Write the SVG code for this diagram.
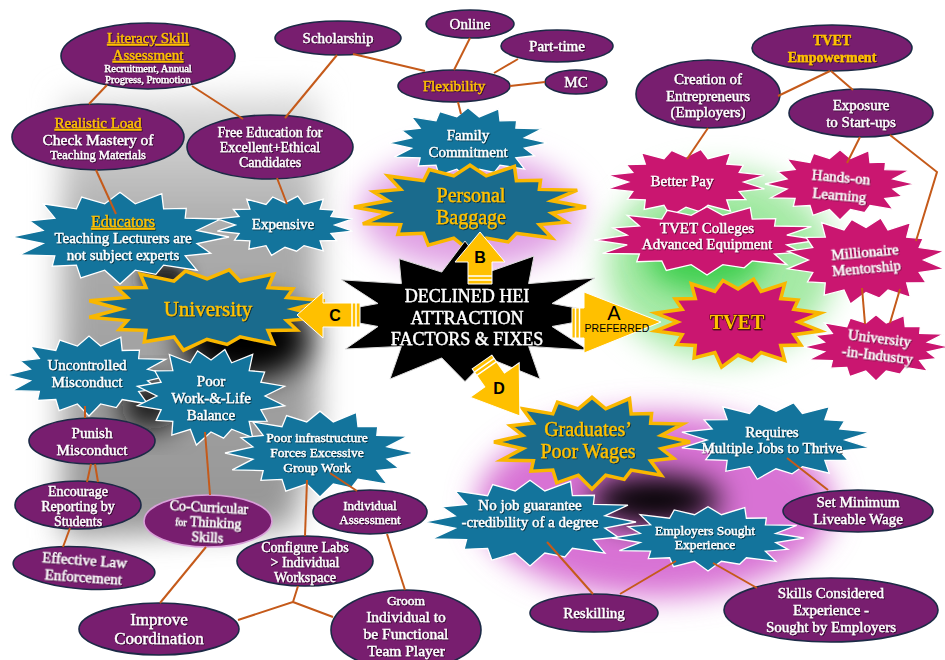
<svg xmlns="http://www.w3.org/2000/svg" width="945" height="660" viewBox="0 0 945 660">
<defs>
<style>
.e{fill:#781e6f;stroke:#1c2a46;stroke-width:1.6}
.t{fill:#13749c;stroke:#fff;stroke-width:1.3}
.tg{fill:#1a6b8d;stroke:#f9b700;stroke-width:3.5}
.m{fill:#ca1670;stroke:#fff;stroke-width:1.3}
.mg{fill:#ca1670;stroke:#f9b700;stroke-width:3.5}
.k{fill:#000;stroke:#ddd;stroke-width:1}
.c{fill:none;stroke:#c55a1a;stroke-width:2}
.w{font-family:"Liberation Serif","DejaVu Serif",serif;font-size:15px;fill:#fff;stroke:#fff;stroke-width:0.35;text-anchor:middle;filter:url(#sh)}
.g{fill:#ffc000;stroke:#ffc000}
.u{text-decoration:underline}
.ar{fill:#ffc000;stroke:#fff;stroke-width:1}
.st{stroke:#fff;stroke-width:1.5}
.al{font-family:"Liberation Sans",Arial,sans-serif;font-weight:bold;font-size:16px;fill:#000;text-anchor:middle}
</style>
<filter id="sh" x="-10%" y="-30%" width="120%" height="160%"><feDropShadow dx="0.8" dy="0.8" stdDeviation="0.6" flood-color="#000" flood-opacity="0.7"/></filter>
<filter id="b15" x="-50%" y="-50%" width="200%" height="200%"><feGaussianBlur stdDeviation="15"/></filter>
<filter id="b8" x="-50%" y="-50%" width="200%" height="200%"><feGaussianBlur stdDeviation="8"/></filter>
<linearGradient id="gg" x1="0" y1="0" x2="0" y2="1"><stop offset="0" stop-color="#e2e2e2"/><stop offset="0.3" stop-color="#acacac"/><stop offset="1" stop-color="#959595"/></linearGradient>
<path id="S" vector-effect="non-scaling-stroke" d="M100,0 L70.6,14 L83.2,34.5 L59.8,40 L70.7,70.7 L40,59.8 L32.9,79.5 L14,70.6 L0,100 L-14,70.6 L-36,86.9 L-40,59.8 L-62.2,62.2 L-59.8,40 L-92.4,38.3 L-70.6,14 L-100,0 L-70.6,-14 L-83.2,-34.5 L-59.8,-40 L-70.7,-70.7 L-40,-59.8 L-35.2,-85 L-14,-70.6 L0,-95 L14,-70.6 L38.3,-92.4 L40,-59.8 L60.8,-60.8 L59.8,-40 L92.4,-38.3 L70.6,-14 Z"/>
<path id="S2" vector-effect="non-scaling-stroke" d="M100,0 L58,15.5 L82.3,47.5 L42.4,42.4 L50,86.6 L15.5,58 L0,90 L-15.5,58 L-50,86.6 L-42.4,42.4 L-79.7,46 L-58,15.5 L-100,0 L-58,-15.5 L-82.3,-47.5 L-42.4,-42.4 L-44,-76.2 L-15.5,-58 L0,-100 L15.5,-58 L46,-79.7 L42.4,-42.4 L86.6,-50 L58,-15.5 Z"/>
</defs>
<rect width="945" height="660" fill="#fff"/>
<g id="backgrounds">
<path d="M62,98 L318,92 L318,420 L292,528 L62,538 Z" fill="url(#gg)" filter="url(#b15)"/>
<ellipse cx="245" cy="340" rx="65" ry="40" fill="#000" filter="url(#b15)"/>
<ellipse cx="150" cy="405" rx="30" ry="25" fill="#111" filter="url(#b15)"/>
<ellipse cx="165" cy="278" rx="25" ry="16" fill="#222" filter="url(#b8)"/>
<ellipse cx="470" cy="212" rx="110" ry="58" fill="#e0a0e4" filter="url(#b15)"/>
<ellipse cx="720" cy="265" rx="115" ry="95" fill="#a6eaa6" filter="url(#b15)"/>
<ellipse cx="705" cy="258" rx="60" ry="35" fill="#3fcf4f" filter="url(#b15)"/>
<ellipse cx="655" cy="505" rx="178" ry="92" fill="#d872d4" filter="url(#b15)"/>
<ellipse cx="655" cy="500" rx="65" ry="25" fill="#000" filter="url(#b15)"/>
</g>
<g id="nodes">
<g id="literacy"><ellipse class="e" cx="148" cy="56" rx="87" ry="33"/><text class="w g u" x="148" y="43">Literacy Skill</text><text class="w g u" x="148" y="60">Assessment</text><text class="w" x="148" y="72" style="font-size:10.5px">Recruitment, Annual</text><text class="w" x="148" y="83" style="font-size:10.5px">Progress, Promotion</text></g>
<g id="realistic"><ellipse class="e" cx="98" cy="137" rx="86" ry="33"/><text class="w g u" x="98" y="128">Realistic Load</text><text class="w" x="98" y="145" style="font-size:15.5px">Check Mastery of</text><text class="w" x="98" y="159" style="font-size:12.5px">Teaching Materials</text></g>
<g id="freeedu"><ellipse class="e" cx="270" cy="147" rx="83" ry="32"/><text class="w" x="270" y="137" style="font-size:14px">Free Education for</text><text class="w" x="270" y="152" style="font-size:14px">Excellent+Ethical</text><text class="w" x="270" y="167" style="font-size:14px">Candidates</text></g>
<g id="scholarship"><ellipse class="e" cx="338" cy="38" rx="63" ry="17"/><text class="w" x="338" y="43">Scholarship</text></g>
<g id="online"><ellipse class="e" cx="470" cy="24" rx="44" ry="14"/><text class="w" x="470" y="29">Online</text></g>
<g id="parttime"><ellipse class="e" cx="557" cy="46" rx="56" ry="16"/><text class="w" x="557" y="51">Part-time</text></g>
<g id="mc"><ellipse class="e" cx="576" cy="82" rx="31" ry="12"/><text class="w" x="576" y="87">MC</text></g>
<g id="flexibility"><ellipse class="e" cx="454" cy="86" rx="56" ry="16"/><text class="w g" x="454" y="91">Flexibility</text></g>
<g id="tvetemp"><ellipse class="e" cx="832" cy="48" rx="80" ry="23"/><text class="w g" x="832" y="45" style="font-size:14px;font-weight:bold">TVET</text><text class="w g" x="832" y="62" style="font-size:14px;font-weight:bold">Empowerment</text></g>
<g id="creation"><ellipse class="e" cx="708" cy="94" rx="72" ry="34"/><text class="w" x="708" y="84">Creation of</text><text class="w" x="708" y="101">Entrepreneurs</text><text class="w" x="708" y="117">(Employers)</text></g>
<g id="exposure"><ellipse class="e" cx="861" cy="113" rx="72" ry="24"/><text class="w" x="861" y="110">Exposure</text><text class="w" x="861" y="127">to Start-ups</text></g>
<g id="punish"><ellipse class="e" cx="92" cy="441" rx="63" ry="23"/><text class="w" x="92" y="438">Punish</text><text class="w" x="92" y="455">Misconduct</text></g>
<g id="encourage"><ellipse class="e" cx="78" cy="505" rx="63" ry="24"/><text class="w" x="78" y="496" style="font-size:14px">Encourage</text><text class="w" x="78" y="511" style="font-size:14px">Reporting by</text><text class="w" x="78" y="526" style="font-size:14px">Students</text></g>
<g id="effective" transform="rotate(4 84 568)"><ellipse class="e" cx="84" cy="568" rx="71" ry="21"/><text class="w" x="84" y="565">Effective Law</text><text class="w" x="84" y="582">Enforcement</text></g>
<g id="cocurricular"><ellipse class="e" cx="208" cy="521" rx="64" ry="26" style="stroke:#d9a0d9"/><g transform="rotate(3 208 525)"><text class="w" x="208" y="512" style="font-size:14px">Co-Curricular</text><text class="w" x="208" y="527" style="font-size:14px"><tspan style="font-size:10px">for</tspan> Thinking</text><text class="w" x="208" y="542" style="font-size:14px">Skills</text></g></g>
<g id="indassess"><ellipse class="e" cx="370" cy="512" rx="57" ry="22"/><text class="w" x="370" y="510" style="font-size:13px">Individual</text><text class="w" x="370" y="524" style="font-size:13px">Assessment</text></g>
<g id="configure"><ellipse class="e" cx="305" cy="561" rx="68" ry="25"/><text class="w" x="305" y="552" style="font-size:14px">Configure Labs</text><text class="w" x="305" y="567" style="font-size:14px">&gt; Individual</text><text class="w" x="305" y="582" style="font-size:14px">Workspace</text></g>
<g id="improve"><ellipse class="e" cx="159" cy="629" rx="80" ry="26"/><text class="w" x="159" y="625" style="font-size:17px">Improve</text><text class="w" x="159" y="644" style="font-size:17px">Coordination</text></g>
<g id="groom"><ellipse class="e" cx="406" cy="630" rx="75" ry="40"/><text class="w" x="406" y="605" style="font-size:13.5px">Groom</text><text class="w" x="406" y="622" style="font-size:15.5px">Individual to</text><text class="w" x="406" y="639" style="font-size:15.5px">be Functional</text><text class="w" x="406" y="656" style="font-size:15.5px">Team Player</text></g>
<g id="reskilling"><ellipse class="e" cx="594" cy="613" rx="64" ry="19"/><text class="w" x="594" y="618">Reskilling</text></g>
<g id="setmin"><ellipse class="e" cx="858" cy="511" rx="75" ry="21"/><text class="w" x="858" y="507">Set Minimum</text><text class="w" x="858" y="524">Liveable Wage</text></g>
<g id="skills"><ellipse class="e" cx="831" cy="610" rx="107" ry="32"/><text class="w" x="831" y="598">Skills Considered</text><text class="w" x="831" y="615">Experience -</text><text class="w" x="831" y="632">Sought by Employers</text></g>

<g id="family"><use href="#S" class="t" transform="translate(468,143) scale(.8,.37)"/><text class="w" x="468" y="140">Family</text><text class="w" x="468" y="157">Commitment</text></g>
<g id="educators"><use href="#S" class="t" transform="translate(120,237) scale(1.09,.47)"/><text class="w g u" x="123" y="227" style="font-size:16px">Educators</text><text class="w" x="123" y="243">Teaching Lecturers are</text><text class="w" x="123" y="260">not subject experts</text></g>
<g id="expensive"><use href="#S" class="t" transform="translate(285,225) scale(.69,.31) rotate(11.25)"/><text class="w" x="283" y="229">Expensive</text></g>
<g id="uncontrolled"><use href="#S" class="t" transform="translate(89,375) scale(.83,.41)"/><text class="w" x="87" y="370">Uncontrolled</text><text class="w" x="87" y="387">Misconduct</text></g>
<g id="poorwork"><use href="#S" class="t" transform="translate(211,396) scale(.75,.5) rotate(11.25)"/><text class="w" x="211" y="386">Poor</text><text class="w" x="211" y="403">Work-&amp;-Life</text><text class="w" x="211" y="420">Balance</text></g>
<g id="poorinfra"><use href="#S" class="t" transform="translate(320,453) scale(.95,.44)"/><text class="w" x="317" y="442" style="font-size:13.5px">Poor infrastructure</text><text class="w" x="317" y="457" style="font-size:13.5px">Forces Excessive</text><text class="w" x="317" y="472" style="font-size:13.5px">Group Work</text></g>
<g id="nojob"><use href="#S" class="t" transform="translate(530,522) scale(1.06,.44)"/><text class="w" x="530" y="510">No job guarantee</text><text class="w" x="530" y="527">-credibility of a degree</text></g>
<g id="requires"><use href="#S" class="t" transform="translate(776,440) scale(.96,.4) rotate(11.25)"/><text class="w" x="772" y="437">Requires</text><text class="w" x="772" y="453">Multiple Jobs to Thrive</text></g>
<g id="employers"><use href="#S" class="t" transform="translate(708,538) scale(.96,.33)"/><text class="w" x="705" y="535" style="font-size:13.5px">Employers Sought</text><text class="w" x="705" y="549" style="font-size:13.5px">Experience</text></g>
<g id="baggage"><use href="#S" class="tg" transform="translate(470,207) scale(1.16,.44)"/><text class="w g" x="471" y="202" style="font-size:20px">Personal</text><text class="w g" x="471" y="224" style="font-size:20px">Baggage</text></g>
<g id="university"><use href="#S" class="tg" transform="translate(207,309) scale(1.2,.42) rotate(11.25)"/><text class="w g" x="208" y="316" style="font-size:21px">University</text></g>
<g id="graduates"><use href="#S" class="tg" transform="translate(592,442) scale(.98,.47)"/><text class="w g" x="588" y="436" style="font-size:20px">Graduates’</text><text class="w g" x="588" y="458" style="font-size:20px">Poor Wages</text></g>
<g id="betterpay"><use href="#S" class="m" transform="translate(686,182) scale(.8,.35) rotate(11.25)"/><text class="w" x="682" y="186">Better Pay</text></g>
<g id="handson"><use href="#S" class="m" transform="translate(840,184) scale(.75,.36)"/><g transform="rotate(5 840 188)"><text class="w" x="840" y="182">Hands-on</text><text class="w" x="840" y="200">Learning</text></g></g>
<g id="colleges"><use href="#S" class="m" transform="translate(707,240) scale(1.13,.35)"/><text class="w" x="707" y="233">TVET Colleges</text><text class="w" x="707" y="249">Advanced Equipment</text></g>
<g id="millionaire"><use href="#S" class="m" transform="translate(866,260) scale(.8,.45) rotate(11.25)"/><g transform="rotate(-5 866 264)"><text class="w" x="866" y="257">Millionaire</text><text class="w" x="866" y="273">Mentorship</text></g></g>
<g id="uii"><use href="#S" class="m" transform="translate(876,347) scale(.73,.34)"/><g transform="rotate(7 878 350)"><text class="w" x="878" y="343">University</text><text class="w" x="878" y="360">-in-Industry</text></g></g>
<g id="tvet"><use href="#S" class="mg" transform="translate(738,322) scale(.84,.46) rotate(11.25)"/><text class="w g" x="737" y="329" style="font-size:20px;font-weight:bold;stroke:#4a1000;stroke-width:0.8;paint-order:stroke">TVET</text></g>

<g id="center"><use href="#S2" class="k" transform="translate(465,315) scale(1.5,.74)"/><text class="w" x="467" y="302" style="font-size:18px">DECLINED HEI</text><text class="w" x="467" y="324" style="font-size:18px">ATTRACTION</text><text class="w" x="467" y="345" style="font-size:18px">FACTORS &amp; FIXES</text></g>
<g id="arrowB"><path class="ar" d="M468,284 V262 H455 L480,232 L505,262 H492 V284 Z"/><path class="st" d="M468,276 H492 M468,280 H492"/><text class="al" x="480" y="263">B</text></g>
<g id="arrowC"><path class="ar" d="M360,303 H323 V292 L297,315 L323,338 V327 H360 Z"/><path class="st" d="M352,303 V327 M356,303 V327"/><text class="al" x="335" y="321">C</text></g>
<g id="arrowA"><path class="ar" d="M572,308 H584 V292 L661,322 L584,353 V338 H572 Z"/><path class="st" d="M575.5,308 V338 M579.5,308 V338"/><text class="al" x="614" y="320" style="font-size:20px;font-weight:normal">A</text><text class="al" x="617" y="332" style="font-size:10.5px;font-weight:normal">PREFERRED</text></g>
<g id="arrowD"><path class="ar" transform="translate(482,362) rotate(55)" d="M0,-12 H22 V-30 L66,0 L22,30 V12 H0 Z"/><path class="st" transform="translate(482,362) rotate(55)" d="M4,-12 V12 M8,-12 V12"/><text class="al" x="499" y="394">D</text></g>
</g>
<g id="connectors" class="c">
<path d="M107,85 L89,104"/>
<path d="M192,86 L243,119"/>
<path d="M337,55 L285,118"/>
<path d="M353,54 L425,71"/>
<path d="M470,38 L454,70"/>
<path d="M518,59 L494,73"/>
<path d="M545,82 L510,86"/>
<path d="M458,102 L461,114"/>
<path d="M96,170 L116,214"/>
<path d="M277,178 L287,204"/>
<path d="M830,71 L778,96"/>
<path d="M831,71 L853,90"/>
<path d="M708,128 L687,159"/>
<path d="M860,137 L847,163"/>
<path d="M890,135 L937,172 L916,241"/>
<path d="M900,289 L890,323"/>
<path d="M862,288 L865,324"/>
<path d="M85,406 L85,418"/>
<path d="M91,464 L87,482 M95,464 L98,482"/>
<path d="M70,528 L63,547"/>
<path d="M205,432 L210,495"/>
<path d="M206,547 L160,603"/>
<path d="M307,480 L305,536"/>
<path d="M330,473 L357,491"/>
<path d="M387,534 L405,590"/>
<path d="M298,586 L293,602 L238,620 M293,602 L333,617"/>
<path d="M547,542 L593,594"/>
<path d="M676,561 L620,594"/>
<path d="M713,563 L757,588"/>
<path d="M787,458 L828,490"/>
</g>
</svg>
